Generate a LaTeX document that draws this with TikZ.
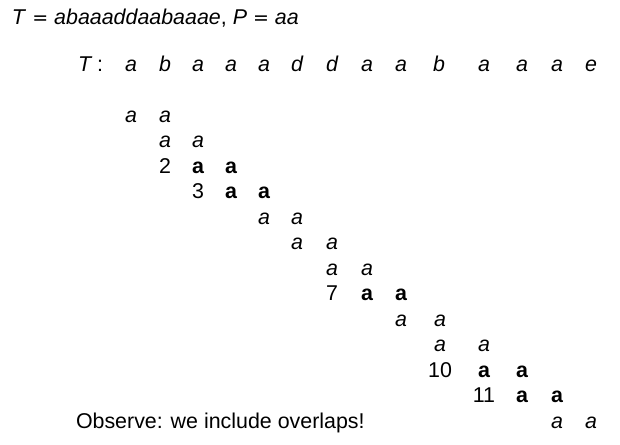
\documentclass[tikz,border=0pt]{standalone}
\usepackage{fontspec}
\setmainfont{Liberation Sans}
\newfontfamily\eqfont{DejaVu Sans}
\newcommand{\myeq}{\hspace{0.28em}{\eqfont\fontsize{19}{25}\selectfont =}\hspace{0.28em}}
\begin{document}
\begin{tikzpicture}[x=1pt,y=-1pt,
  every node/.style={inner sep=0pt,outer sep=0pt,font=\fontsize{21.4}{25}\selectfont},
  lt/.style={anchor=base,font=\fontsize{21.4}{25}\selectfont\itshape},
  bd/.style={anchor=base,font=\fontsize{21.4}{25}\selectfont\bfseries},
  num/.style={anchor=base}]
\useasboundingbox (0,0) rectangle (620,444);
\node[anchor=base west] (title) at (12,25) {\textit{T}\myeq\textit{abaaaddaabaaae}, \textit{P}\myeq\textit{aa}};
% text row
\node[lt,anchor=base west] (Tl) at (78,71) {T};
\node[anchor=base] (Tc) at (100,71) {:};
\foreach \x/\c [count=\i from 0] in {131/a,165/b,198/a,231/a,264/a,297/d,332/d,367/a,401/a,439/b,484/a,522/a,557/a,591/e}
  \node[lt] (t\i) at (\x,71) {\c};
% alignment rows
\node[lt] (r1a) at (131,122) {a};   \node[lt] (r1b) at (165,122) {a};
\node[lt] (r2a) at (165,147.5) {a}; \node[lt] (r2b) at (198,147.5) {a};
\node[num] (r3n) at (165,173) {2};  \node[bd] (r3a) at (198,173) {a}; \node[bd] (r3b) at (231,173) {a};
\node[num] (r4n) at (198,198.5) {3};\node[bd] (r4a) at (231,198.5) {a}; \node[bd] (r4b) at (264,198.5) {a};
\node[lt] (r5a) at (264,224) {a};   \node[lt] (r5b) at (297,224) {a};
\node[lt] (r6a) at (297,249.5) {a}; \node[lt] (r6b) at (332,249.5) {a};
\node[lt] (r7a) at (332,275) {a};   \node[lt] (r7b) at (367,275) {a};
\node[num] (r8n) at (332,300.5) {7};\node[bd] (r8a) at (367,300.5) {a}; \node[bd] (r8b) at (401,300.5) {a};
\node[lt] (r9a) at (401,326) {a};   \node[lt] (r9b) at (440,326) {a};
\node[lt] (r10a) at (440,351.5) {a};\node[lt] (r10b) at (484,351.5) {a};
\node[num] (r11n) at (440,377) {10};\node[bd] (r11a) at (484,377) {a}; \node[bd] (r11b) at (522,377) {a};
\node[num] (r12n) at (484,402.5) {11};\node[bd] (r12a) at (522,402.5) {a}; \node[bd] (r12b) at (557,402.5) {a};
\node[lt] (r13a) at (557,428) {a};  \node[lt] (r13b) at (591,428) {a};
\node[anchor=base west] (obs) at (76,428) {Observe: we include overlaps!};
\end{tikzpicture}
\end{document}
